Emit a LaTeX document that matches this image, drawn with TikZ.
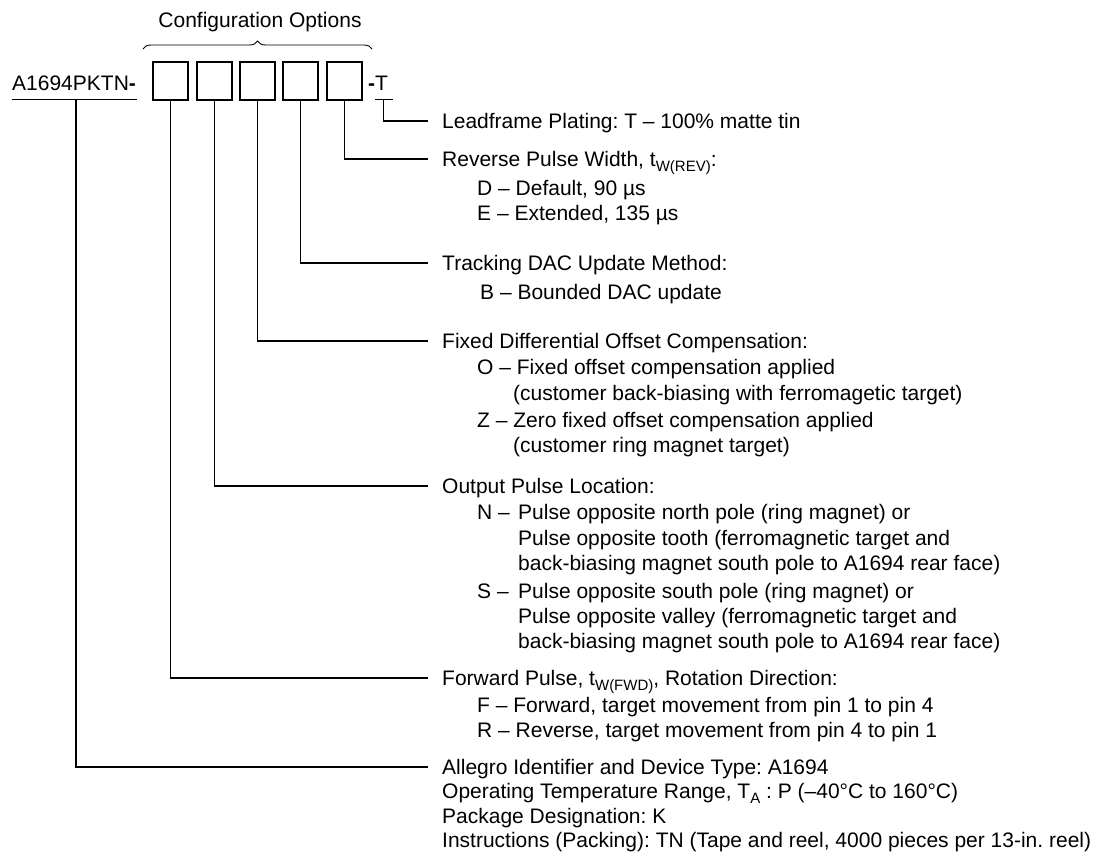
\documentclass[tikz,border=0pt]{standalone}
\usepackage{fontspec}
\setmainfont{Liberation Sans}
\usetikzlibrary{decorations.pathreplacing}
\frenchspacing
\newcommand\lsub[1]{\raisebox{-4.5pt}{\fontsize{15}{15}\selectfont #1}}
\begin{document}
\begin{tikzpicture}[x=1pt,y=-1pt,
  lbl/.style={anchor=base west, inner sep=0pt, font=\fontsize{21}{25}\selectfont\frenchspacing},
  ctr/.style={anchor=base, inner sep=0pt, font=\fontsize{21}{25}\selectfont},
  optbox/.style={draw, line width=1.2pt, minimum width=35pt, minimum height=38pt, inner sep=0pt},
  conn/.style={line width=1.15pt},
  bracestyle/.style={line width=0.9pt, decorate, decoration={brace, amplitude=8pt}}]
\useasboundingbox (0,0) rectangle (1107,859);

% header
\node[ctr] (cfg) at (260,27.5) {Configuration Options};
\coordinate (brL) at (143,49);
\coordinate (brR) at (372,49);
\draw[bracestyle] (brL) -- (brR);

\node[lbl] (pn) at (12,90.5) {A1694PKTN\textbf{-}};
\node[lbl] (tt) at (368,90.5) {\textbf{-}T};
\coordinate (pnL) at (12,99.3);
\coordinate (pnR) at (137,99.3);
\coordinate (pnM) at (76,99.3);
\draw[conn] (pnL) -- (pnR);
\coordinate (ttL) at (375,99.3);
\coordinate (ttR) at (393,99.3);
\coordinate (ttM) at (383.5,99.3);
\draw[conn] (ttL) -- (ttR);

\node[optbox] (b1) at (170.5,81) {};
\node[optbox] (b2) at (214.5,81) {};
\node[optbox] (b3) at (257.5,81) {};
\node[optbox] (b4) at (300.5,81) {};
\node[optbox] (b5) at (344.5,81) {};

% labels
\node[lbl] (lead) at (442,128.5) {Leadframe Plating: T – 100\% matte tin};

\node[lbl] (rev) at (442,166.5) {Reverse Pulse Width, t\lsub{W(REV)}:};
\node[lbl] (revD) at (477,195.5) {D – Default, 90 µs};
\node[lbl] (revE) at (477,220.5) {E – Extended, 135 µs};

\node[lbl] (dac) at (442,270.5) {Tracking DAC Update Method:};
\node[lbl] (dacB) at (480,299.5) {B – Bounded DAC update};

\node[lbl] (off) at (442,348.5) {Fixed Differential Offset Compensation:};
\node[lbl] (offO) at (477,374.5) {O – Fixed offset compensation applied};
\node[lbl] (offO2) at (513,400.5) {(customer back-biasing with ferromagetic target)};
\node[lbl] (offZ) at (477,427.5) {Z – Zero fixed offset compensation applied};
\node[lbl] (offZ2) at (513,452.5) {(customer ring magnet target)};

\node[lbl] (out) at (442,493.5) {Output Pulse Location:};
\node[lbl] (outN) at (477,519.5) {\makebox[41pt][l]{N –}Pulse opposite north pole (ring magnet) or};
\node[lbl] (outN2) at (518,545.5) {Pulse opposite tooth (ferromagnetic target and};
\node[lbl] (outN3) at (518,570.5) {back-biasing magnet south pole to A1694 rear face)};
\node[lbl] (outS) at (477,598.5) {\makebox[41pt][l]{S –}Pulse opposite south pole (ring magnet) or};
\node[lbl] (outS2) at (518,623.5) {Pulse opposite valley (ferromagnetic target and};
\node[lbl] (outS3) at (518,648.5) {back-biasing magnet south pole to A1694 rear face)};

\node[lbl] (fwd) at (442,685.5) {Forward Pulse, t\lsub{W(FWD)}, Rotation Direction:};
\node[lbl] (fwdF) at (477,712.5) {F – Forward, target movement from pin 1 to pin 4};
\node[lbl] (fwdR) at (477,737.5) {R – Reverse, target movement from pin 4 to pin 1};

\node[lbl] (alg) at (442,774.5) {Allegro Identifier and Device Type: A1694};
\node[lbl] (algT) at (442,798.5) {Operating Temperature Range, T\lsub{A} : P (–40°C to 160°C)};
\node[lbl] (algP) at (442,823.5) {Package Designation: K};
\node[lbl] (algI) at (442,847.5) {Instructions (Packing): TN (Tape and reel, 4000 pieces per 13-in. reel)};

% connectors
\draw[conn] (ttM) |- ([shift={(-14pt,7.5pt)}]lead.base west);
\draw[conn] (b5.south) |- ([shift={(-14pt,7.5pt)}]rev.base west);
\draw[conn] (b4.south) |- ([shift={(-14pt,7.5pt)}]dac.base west);
\draw[conn] (b3.south) |- ([shift={(-14pt,7.5pt)}]off.base west);
\draw[conn] (b2.south) |- ([shift={(-14pt,7.5pt)}]out.base west);
\draw[conn] (b1.south) |- ([shift={(-14pt,7.5pt)}]fwd.base west);
\draw[conn] (pnM) |- ([shift={(-14pt,7.5pt)}]alg.base west);
\end{tikzpicture}
\end{document}
